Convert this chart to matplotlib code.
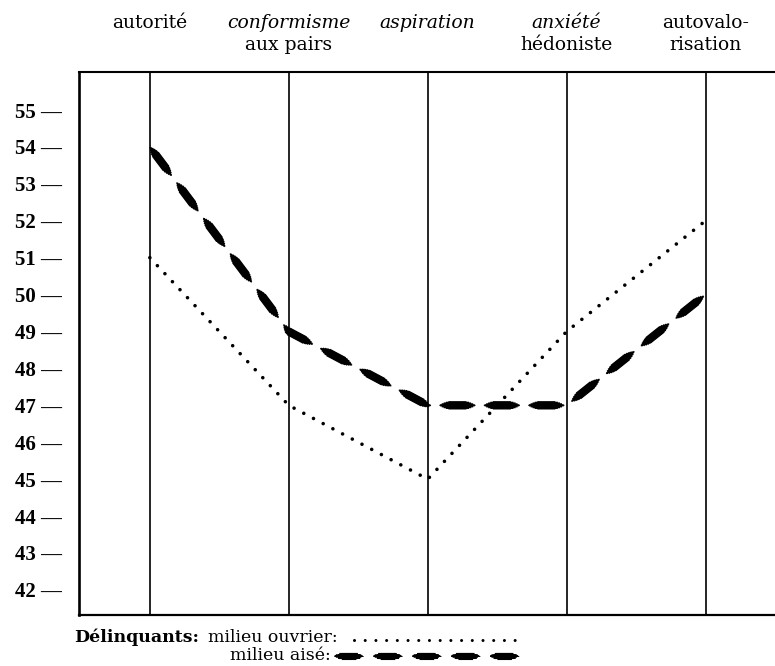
import matplotlib
matplotlib.use("Agg")
import matplotlib.pyplot as plt
import matplotlib.transforms as mtransforms
from matplotlib.lines import Line2D

# ---- data ----
categories_line1 = ["autorité", "conformisme", "aspiration", "anxiété", "autovalo-"]
categories_line1_style = ["normal", "italic", "italic", "italic", "normal"]
categories_line2 = ["", "aux pairs", "", "hédoniste", "risation"]
y_ticks = list(range(42, 56))
ouvrier = [51, 47, 45, 49, 52]   # milieu ouvrier (dotted)
aise = [54, 49, 47, 47, 50]      # milieu aisé (lens dashes)
legend_title = "Délinquants:"
legend_ouvrier = "milieu ouvrier:"
legend_aise = "milieu aisé:"

plt.rcParams['lines.scale_dashes'] = False

W, H = 775, 666
fig = plt.figure(figsize=(W / 100, H / 100), dpi=100)
fig.patch.set_facecolor("white")
left, right, top, bottom = 79, 775, 72, 615
ax = fig.add_axes([left / W, 1 - bottom / H, (right - left) / W, (bottom - top) / H])

x = list(range(len(categories_line1)))
ax.set_xlim(-0.51, 4.5)
ax.set_ylim(41.32, 56.03)

# frame
ax.spines['right'].set_visible(False)
ax.spines['left'].set_linewidth(1.9)
ax.spines['top'].set_linewidth(1.5)
ax.spines['bottom'].set_linewidth(1.6)

# vertical category lines
for xi in x:
    ax.axvline(xi, color='black', lw=1.2, zorder=1)

# ticks
ax.set_xticks([])
ax.set_yticks(y_ticks)
ax.set_yticklabels([f"{v} —" for v in y_ticks], fontfamily='Liberation Serif',
                   fontweight='bold', fontsize=15)
ax.tick_params(axis='y', length=0, pad=12)


def lens_layers(period, dash_max, scale=1.0):
    layers = [(6.0, 0.50), (5.2, 0.64), (4.2, 0.76), (3.0, 0.87), (1.6, 0.96), (0.8, 1.0)]
    out = []
    for lw, frac in layers:
        L = dash_max * frac
        off = period - (dash_max - L) / 2
        out.append((lw * scale, (off, (L, period - L))))
    return out


# milieu ouvrier: dotted
ax.plot(x, ouvrier, color='black', lw=2.6, linestyle=(0, (0.01, 7.9)),
        dash_capstyle='round', solid_capstyle='round', zorder=3)

# milieu aisé: lens-shaped dashes
for lw, ls in lens_layers(32.0, 26.0):
    ax.plot(x, aise, color='black', lw=lw, linestyle=ls, dash_capstyle='butt', zorder=4)

# category labels at top
trans = mtransforms.blended_transform_factory(ax.transData, fig.transFigure)
for xi, l1, st, l2 in zip(x, categories_line1, categories_line1_style, categories_line2):
    ax.text(xi, 1 - 23 / H, l1, transform=trans, ha='center', va='center',
            fontfamily='DejaVu Serif', fontsize=13.5, style=st)
    if l2:
        ax.text(xi, 1 - 45 / H, l2, transform=trans, ha='center', va='center',
                fontfamily='DejaVu Serif', fontsize=13.5)

# legend
y1 = 1 - 637 / H
y2 = 1 - 656 / H
fig.text(74 / W, y1, legend_title, fontfamily='DejaVu Serif', fontweight='bold',
         fontsize=12.5, va='center', ha='left')
fig.text(208 / W, y1, legend_ouvrier, fontfamily='DejaVu Serif', fontsize=12.5,
         va='center', ha='left')
fig.text(230 / W, y2, legend_aise, fontfamily='DejaVu Serif', fontsize=12.5,
         va='center', ha='left')
fig.add_artist(Line2D([354 / W, 524 / W], [y1 - 0.004, y1 - 0.004], transform=fig.transFigure,
                      color='black', lw=2.2, linestyle=(0, (0.01, 7.7)),
                      dash_capstyle='round'))
for lw, ls in lens_layers(28.0, 21.0, scale=0.85):
    fig.add_artist(Line2D([334 / W, 526 / W], [y2, y2], transform=fig.transFigure,
                          color='black', lw=lw, linestyle=ls, dash_capstyle='butt'))

fig.savefig("out.png", dpi=100, facecolor='white')
